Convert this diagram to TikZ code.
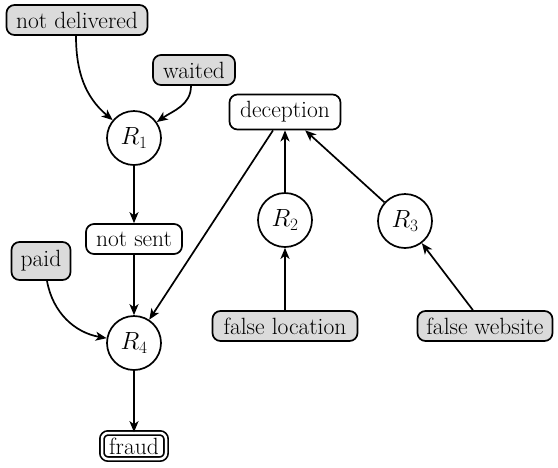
\documentclass[tikz,border=0pt]{standalone}
\usetikzlibrary{arrows.meta}
\begin{document}
\begin{tikzpicture}[x=1pt,y=-1pt,
  every node/.style={font=\fontsize{23.5}{28}\selectfont, line width=1.7pt},
  box/.style={draw, rounded corners=8pt, inner xsep=4pt, inner ysep=0pt, minimum height=30pt},
  given/.style={box, fill=gray!28},
  rule/.style={draw, circle, minimum size=54pt, inner sep=0pt},
  goal/.style={box, double, double distance=2.5pt, minimum height=26pt, rounded corners=6pt, inner xsep=7pt},
  edge/.style={line width=1.7pt, -{Stealth[length=11pt,width=9pt,inset=3pt]}}]
\useasboundingbox (0,0) rectangle (558,467);
\node[given, minimum width=141pt] (nd) at (77,20) {not delivered};
\node[given, minimum width=82pt] (wa) at (194,70) {waited};
\node[rule] (r1) at (134,138) {$R_1$};
\node[box, minimum width=111pt, minimum height=35pt] (de) at (285,112) {deception};
\node[box, minimum width=96pt] (ns) at (134,239) {not sent};
\node[given, minimum width=59pt, minimum height=38pt] (pa) at (41,261) {paid};
\node[rule] (r2) at (285,220) {$R_2$};
\node[rule] (r3) at (405,221) {$R_3$};
\node[rule] (r4) at (134,343) {$R_4$};
\node[given, minimum width=145pt] (fl) at (285,326) {false location};
\node[given, minimum width=135pt] (fw) at (485,326) {false website};
\node[goal, minimum width=64pt] (fr) at (134,446) {fraud};
\draw[edge] (nd.south) ++(-1,0) to[out=-90,in=140] (r1);
\draw[edge] (wa.south) ++(-3,0) to[out=-90,in=35] (r1);
\draw[edge] (r1) -- (ns);
\draw[edge] (ns) -- (r4);
\draw[edge] (pa.south) ++(6,0) to[out=-80,in=170] (r4);
\draw[edge] (de) -- (r4);
\draw[edge] (r2) -- (de);
\draw[edge] (r3) -- (de);
\draw[edge] (fl) -- (r2);
\draw[edge] (fw) -- (r3);
\draw[edge] (r4) -- (fr);
\end{tikzpicture}
\end{document}
